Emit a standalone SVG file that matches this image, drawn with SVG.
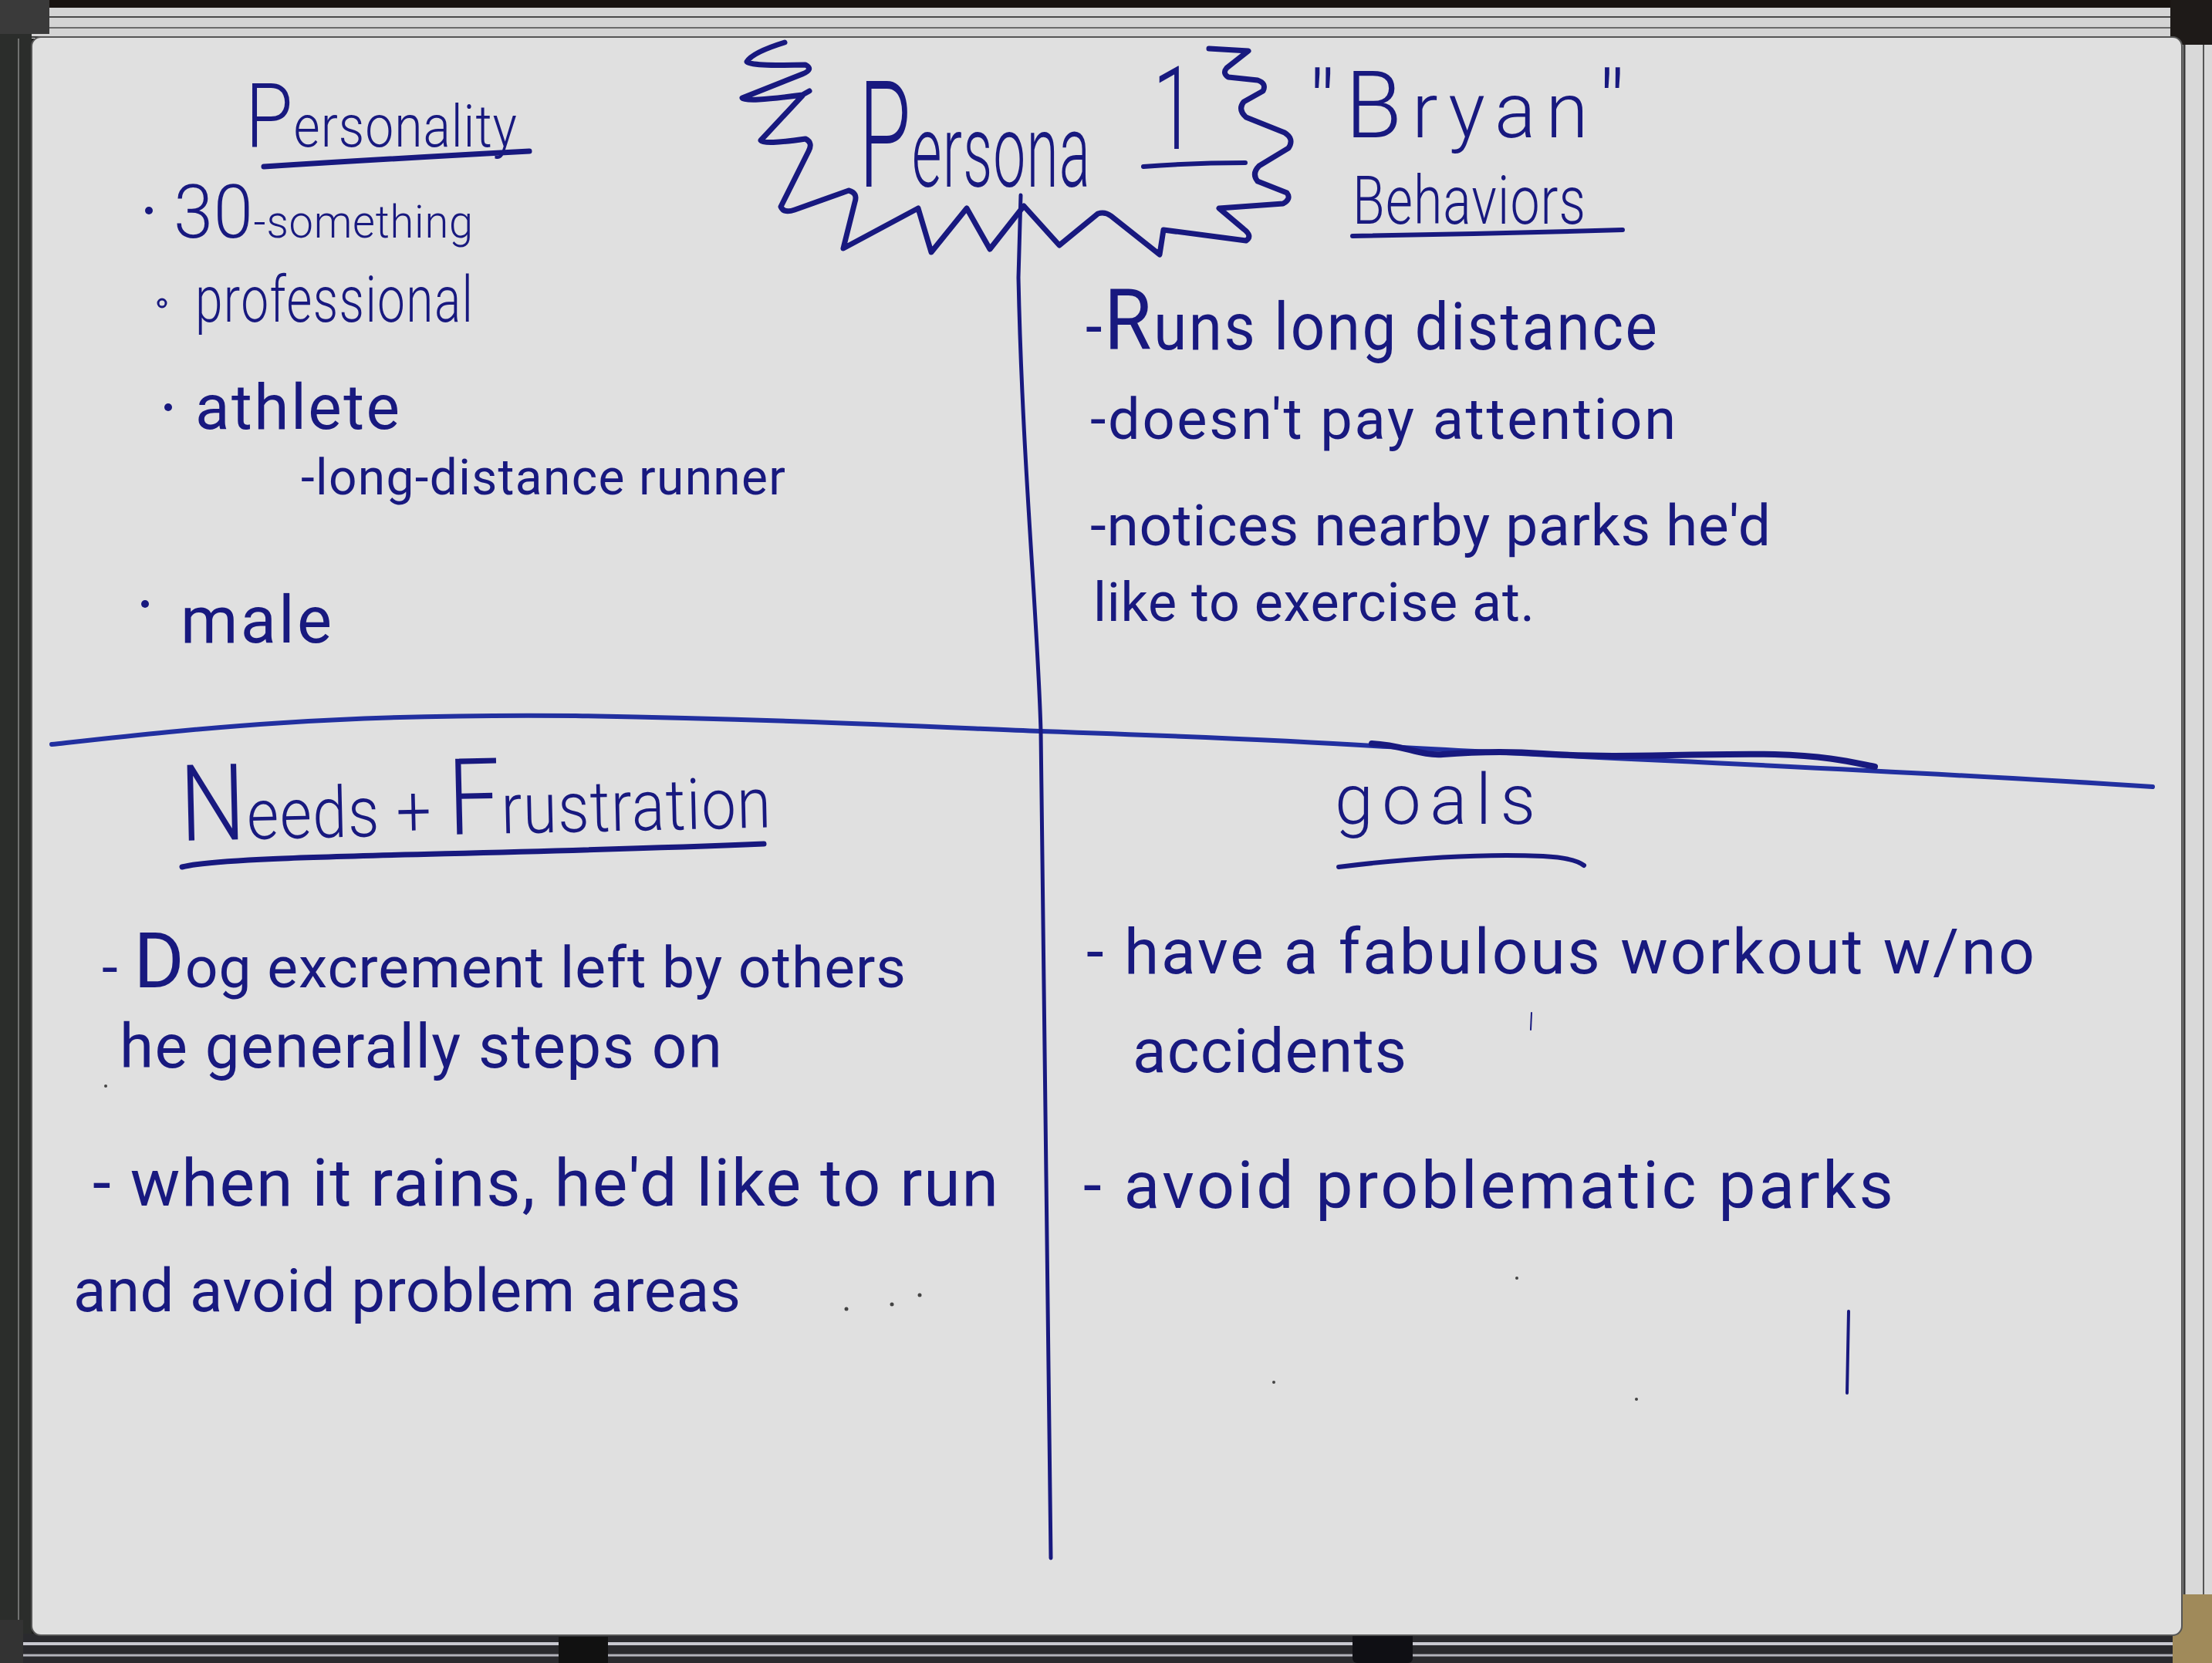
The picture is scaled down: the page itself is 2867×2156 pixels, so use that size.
<svg xmlns="http://www.w3.org/2000/svg" width="2867" height="2156" viewBox="0 0 2867 2156">
  <style>
    .ink { fill: #18197f; font-family: Roboto, "Open Sans", "Liberation Sans", sans-serif; font-weight: 400; }
    .thin { font-weight: 300; }
    .pen { fill: none; stroke: #18197f; stroke-linecap: round; stroke-linejoin: round; }
    .rule { fill: none; stroke: #2230a0; stroke-linecap: round; stroke-linejoin: round; }
    .dot { fill: #18197f; }
    .speck { fill: #444; }
  </style>

  <!-- whiteboard frame -->
  <g id="frame">
    <rect x="0" y="0" width="2867" height="2156" fill="#1e1e1e"/>
    <rect x="0" y="10" width="2867" height="40" fill="#d4d4d4"/>
    <line x1="0" y1="22" x2="2867" y2="22" stroke="#4a4a4a" stroke-width="2"/>
    <line x1="0" y1="36" x2="2867" y2="36" stroke="#6a6a6a" stroke-width="2"/>
    <line x1="0" y1="48" x2="2867" y2="48" stroke="#3a3a3a" stroke-width="2"/>
    <rect x="0" y="0" width="2867" height="10" fill="#17120f"/>
    <rect x="0" y="0" width="41" height="2156" fill="#2b2d2b"/>
    <line x1="24" y1="50" x2="24" y2="2120" stroke="#8a8a8a" stroke-width="1.5"/>
    <rect x="2828" y="50" width="39" height="2070" fill="#d9d9d9"/>
    <line x1="2831" y1="50" x2="2831" y2="2120" stroke="#3a3a3a" stroke-width="3"/>
    <line x1="2856" y1="50" x2="2856" y2="2120" stroke="#555" stroke-width="2"/>
    <rect x="0" y="2118" width="2867" height="38" fill="#2a2a2e"/>
    <line x1="30" y1="2131" x2="2820" y2="2131" stroke="#c8c8d0" stroke-width="4"/>
    <line x1="30" y1="2146" x2="2820" y2="2146" stroke="#b4b4bc" stroke-width="3"/>
    <rect x="0" y="0" width="64" height="44" fill="#3a3a3a"/>
    <rect x="2813" y="0" width="54" height="58" fill="#1e1a18"/>
    <rect x="2816" y="2067" width="51" height="89" fill="#a08a5a"/>
    <rect x="0" y="2100" width="30" height="56" fill="#333"/>
    <rect x="724" y="2122" width="64" height="34" fill="#111"/>
    <rect x="1753" y="2098" width="78" height="58" rx="6" fill="#0f0f14"/>
    <ellipse cx="1780" cy="2098" rx="12" ry="14" fill="#b09a70"/>
    <rect x="41" y="48" width="2787" height="2072" rx="12" fill="#e0e0e0" stroke="#555" stroke-width="2"/>
  </g>

  <!-- quadrant dividers -->
  <g id="dividers">
    <path class="rule" stroke-width="6" d="M67 965 C250 945 420 925 746 928 C1000 932 1200 942 1349 948 C1550 955 1700 962 1780 967 C2100 985 2400 995 2790 1020"/>
    <path class="pen" stroke-width="8" d="M1778 964 C1820 966 1840 980 1870 978 C1920 974 1960 974 2000 977 C2100 984 2200 976 2300 978 C2370 980 2400 988 2430 994"/>
    <path class="pen" stroke-width="5" d="M1323 253 L1320 360 C1325 600 1345 800 1349 948 C1355 1400 1360 1800 1362 2020"/>
  </g>

  <!-- title burst -->
  <g id="title">
    <path class="pen" stroke-width="7" d="M1017 55 Q975 68 968 80 Q972 86 1044 84 Q1055 90 1040 96 L962 127 Q966 133 1040 123 L1049 118 M1040 124 L986 182 Q990 188 1044 180 Q1054 185 1048 196 L1012 268 Q1016 277 1030 272 L1100 247 Q1112 250 1108 262 L1093 322 L1190 270 L1207 327 L1253 270 L1283 323 L1327 267 L1373 318 L1423 277 Q1432 274 1440 280 L1503 330 L1508 298 L1615 312 Q1624 306 1612 297 L1580 270 L1663 264 Q1674 258 1668 250 L1630 235 Q1622 225 1632 215 L1670 192 Q1678 180 1665 172 L1615 152 Q1604 142 1612 132 L1637 118 Q1642 108 1630 104 L1592 100 Q1584 95 1590 88 L1618 66 L1567 63"/>
    <text class="ink thin" transform="translate(1113 242) scale(1 1.75)" textLength="300" lengthAdjust="spacing"><tspan font-size="110">P</tspan><tspan font-size="75">ersona</tspan></text>
    <text class="ink thin" transform="translate(1494 193) scale(1 1.5)" font-size="100">1</text>
    <path class="pen" stroke-width="6" d="M1482 216 Q1550 211 1614 211"/>
  </g>

  <!-- top left quadrant -->
  <g id="personality">
    <text class="ink thin" transform="translate(318 190) scale(1 1.15)" textLength="352" lengthAdjust="spacing"><tspan font-size="100">P</tspan><tspan font-size="66">ersonality</tspan></text>
    <path class="pen" stroke-width="7" d="M342 216 Q500 206 686 196"/>
    <circle class="dot" cx="193" cy="273" r="5"/>
    <text class="ink thin" transform="translate(225 308) scale(1 1.05)" textLength="388" lengthAdjust="spacing"><tspan font-size="92">30</tspan><tspan font-size="56">-something</tspan></text>
    <circle cx="210" cy="393" r="5" fill="none" stroke="#18197f" stroke-width="3"/>
    <text class="ink thin" transform="translate(253 417) scale(1 1.3)" font-size="64" textLength="360" lengthAdjust="spacing">professional</text>
    <circle class="dot" cx="218" cy="528" r="5"/>
    <text class="ink" x="253" y="556" font-size="82" textLength="265" lengthAdjust="spacing">athlete</text>
    <text class="ink" x="390" y="641" font-size="64" textLength="628" lengthAdjust="spacing">-long-distance runner</text>
    <circle class="dot" cx="188" cy="783" r="5"/>
    <text class="ink" x="234" y="833" font-size="85" textLength="196" lengthAdjust="spacing">male</text>
  </g>

  <!-- top right quadrant -->
  <g id="behaviors">
    <text class="ink thin" transform="translate(1696 178)" textLength="410" lengthAdjust="spacing"><tspan font-size="120">"B</tspan><tspan font-size="100">ryan</tspan><tspan font-size="120">"</tspan></text>
    <text class="ink thin" transform="translate(1753 290) scale(1 1.28)" font-size="68" textLength="302" lengthAdjust="spacing">Behaviors</text>
    <path class="pen" stroke-width="6" d="M1753 306 Q1930 303 2103 298"/>
    <text class="ink" transform="translate(1407 453) scale(1 1.1)" textLength="741" lengthAdjust="spacing"><tspan font-size="78">-</tspan><tspan font-size="100">R</tspan><tspan font-size="78">uns long distance</tspan></text>
    <text class="ink" x="1413" y="569" font-size="74" textLength="759" lengthAdjust="spacing">-doesn't pay attention</text>
    <text class="ink" x="1413" y="707" font-size="75" textLength="882" lengthAdjust="spacing">-notices nearby parks he'd</text>
    <text class="ink" x="1417" y="805" font-size="70" textLength="572" lengthAdjust="spacing">like to exercise at.</text>
  </g>

  <!-- bottom left quadrant -->
  <g id="needs">
    <text class="ink thin" transform="translate(234 1090) rotate(-1.3) scale(1 1.15)" textLength="766" lengthAdjust="spacing"><tspan font-size="120">N</tspan><tspan font-size="80">eeds + </tspan><tspan font-size="120">F</tspan><tspan font-size="80">rustration</tspan></text>
    <path class="pen" stroke-width="7" d="M236 1124 C300 1108 600 1110 990 1094"/>
    <text class="ink" x="132" y="1280" textLength="1042" lengthAdjust="spacing"><tspan font-size="75">- </tspan><tspan font-size="100">D</tspan><tspan font-size="75">og excrement left by others</tspan></text>
    <text class="ink" x="155" y="1384" font-size="80" textLength="781" lengthAdjust="spacing">he generally steps on</text>
    <text class="ink" x="120" y="1563" font-size="86" textLength="1174" lengthAdjust="spacing">- when it rains, he'd like to run</text>
    <text class="ink" x="95" y="1700" font-size="78" textLength="865" lengthAdjust="spacing">and avoid problem areas</text>
    <circle class="speck" cx="1097" cy="1697" r="2.5"/>
    <circle class="speck" cx="1156" cy="1691" r="2.5"/>
    <circle class="speck" cx="1192" cy="1679" r="2.5"/>
    <circle class="speck" cx="137" cy="1408" r="2"/>
  </g>

  <!-- bottom right quadrant -->
  <g id="goals">
    <text class="ink thin" x="1730" y="1068" font-size="90" textLength="260" lengthAdjust="spacing">goals</text>
    <path class="pen" stroke-width="6" d="M1735 1124 Q1890 1105 2000 1110 Q2040 1112 2053 1122"/>
    <text class="ink" x="1408" y="1262" font-size="82" textLength="1229" lengthAdjust="spacing">- have a fabulous workout w/no</text>
    <text class="ink" x="1468" y="1390" font-size="80" textLength="355" lengthAdjust="spacing">accidents</text>
    <text class="ink" x="1404" y="1566" font-size="86" textLength="1050" lengthAdjust="spacing">- avoid problematic parks</text>
    <path class="pen" stroke-width="2" d="M1985 1313 L1984 1335"/>
    <path class="pen" stroke-width="4" d="M2396 1700 L2394 1806"/>
    <circle class="speck" cx="1966" cy="1657" r="2"/>
    <circle class="speck" cx="1651" cy="1792" r="2"/>
    <circle class="speck" cx="2121" cy="1814" r="2"/>
  </g>
</svg>
